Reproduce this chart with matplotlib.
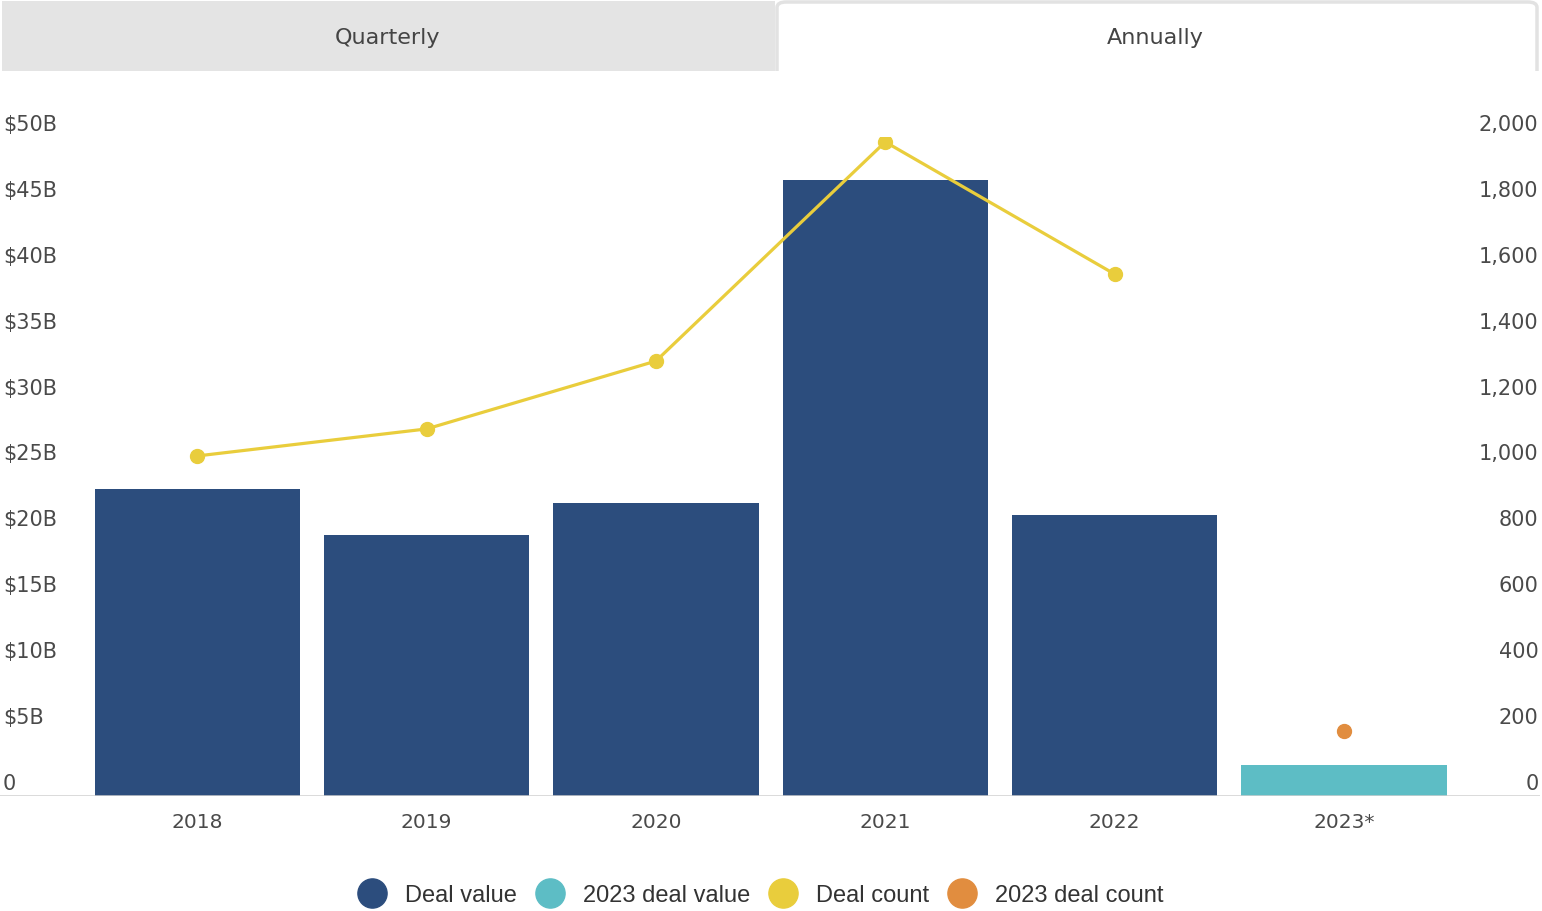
import matplotlib.pyplot as plt
from matplotlib.lines import Line2D
from matplotlib.patches import Rectangle, FancyBboxPatch
from matplotlib.transforms import offset_copy

years = ["2018", "2019", "2020", "2021", "2022", "2023*"]
deal_value = [23.3, 19.8, 22.2, 46.7, 21.3, 2.35]  # $B
deal_count = [1032, 1114, 1320, 1985, 1584, 197]

value_ticks = [0, 5, 10, 15, 20, 25, 30, 35, 40, 45, 50]
value_labels = ["0", "$5B", "$10B", "$15B", "$20B", "$25B", "$30B", "$35B", "$40B", "$45B", "$50B"]
count_ticks = [0, 200, 400, 600, 800, 1000, 1200, 1400, 1600, 1800, 2000]
count_labels = ["0", "200", "400", "600", "800", "1,000", "1,200", "1,400", "1,600", "1,800", "2,000"]

tabs = ["Quarterly", "Annually"]
legend_names = ["Deal value", "2023 deal value", "Deal count", "2023 deal count"]

navy = "#2c4d7d"
teal = "#5dbdc5"
yellow = "#e9cd3c"
orange = "#e18d3f"
label_grey = "#4a4a4a"


def main():
    width, height, dpi = 1542, 912, 100
    fig = plt.figure(figsize=(width / dpi, height / dpi), dpi=dpi)
    plt.rcParams["font.family"] = ["DejaVu Sans"]

    # tab strip
    fig.patches.append(Rectangle((2 / width, 1 - 72 / height), 773 / width, 70 / height,
                                 transform=fig.transFigure, facecolor="#e4e4e4",
                                 edgecolor="none", zorder=0))
    fig.patches.append(FancyBboxPatch((777 / width, 1 - 80 / height), 760 / width, 77 / height,
                                      boxstyle="round,pad=0,rounding_size=0.006",
                                      transform=fig.transFigure, facecolor="white",
                                      edgecolor="#e2e2e2", linewidth=2.5, zorder=0))
    fig.patches.append(Rectangle((770 / width, 1 - 95 / height), 780 / width, 23 / height,
                                 transform=fig.transFigure, facecolor="white",
                                 edgecolor="none", zorder=1))
    fig.text(387 / width, 1 - 38 / height, tabs[0], ha="center", va="center",
             fontsize=16, color="#444444")
    fig.text(1155 / width, 1 - 38 / height, tabs[1], ha="center", va="center",
             fontsize=16, color="#444444")

    ax = fig.add_axes([0, 115 / height, 1540 / width, 659 / height])
    ax2 = ax.twinx()
    ax.set_zorder(2)
    ax2.set_zorder(3)
    ax.patch.set_visible(False)
    ax2.patch.set_visible(False)

    x = list(range(len(years)))
    colors = [navy] * 5 + [teal]
    ax.bar(x, deal_value, width=0.895, color=colors, zorder=2)
    ax.axhline(0, color="#d0d0d0", linewidth=1.8, zorder=3)
    ax.set_xlim(-0.86, 5.855)
    ax.set_ylim(0, 50)
    ax2.set_ylim(0, 2000)

    ax2.plot(x[:5], deal_count[:5], color=yellow, linewidth=2.3, marker="o",
             markersize=10, zorder=4)
    ax2.plot(x[5:], deal_count[5:], color=orange, linestyle="none", marker="o",
             markersize=10, zorder=4)

    for a in (ax, ax2):
        a.set_yticks([])
        a.set_xticks([])
        for s in a.spines.values():
            s.set_visible(False)

    # axis labels sit just above their value
    lift_left = offset_copy(ax.get_yaxis_transform(), fig=fig, x=2, y=13 * 72 / dpi, units="points")
    for v, lab in zip(value_ticks, value_labels):
        ax.text(0, v, lab, transform=lift_left, ha="left", va="center",
                fontsize=15, color=label_grey)
    lift_right = offset_copy(ax2.get_yaxis_transform(), fig=fig, x=-1, y=13 * 72 / dpi, units="points")
    for v, lab in zip(count_ticks, count_labels):
        ax2.text(1, v, lab, transform=lift_right, ha="right", va="center",
                 fontsize=15, color=label_grey)
    drop = offset_copy(ax.get_xaxis_transform(), fig=fig, y=-26 * 72 / dpi, units="points")
    for i, lab in zip(x, years):
        ax.text(i, 0, lab, transform=drop, ha="center", va="center",
                fontsize=14.5, color=label_grey)

    handles = [Line2D([], [], linestyle="none", marker="o", markersize=21,
                      markerfacecolor=c, markeredgecolor=c)
               for c in (navy, teal, yellow, orange)]
    fig.legend(handles, legend_names, loc="center", bbox_to_anchor=(0.494, 1 - 896 / height),
               ncol=4, frameon=False, handlelength=1.0, handletextpad=0.9,
               columnspacing=0.9, prop={"family": ["Liberation Sans"], "size": 17},
               labelcolor="#333333")

    fig.savefig("out.png", dpi=dpi)


if __name__ == "__main__":
    main()
